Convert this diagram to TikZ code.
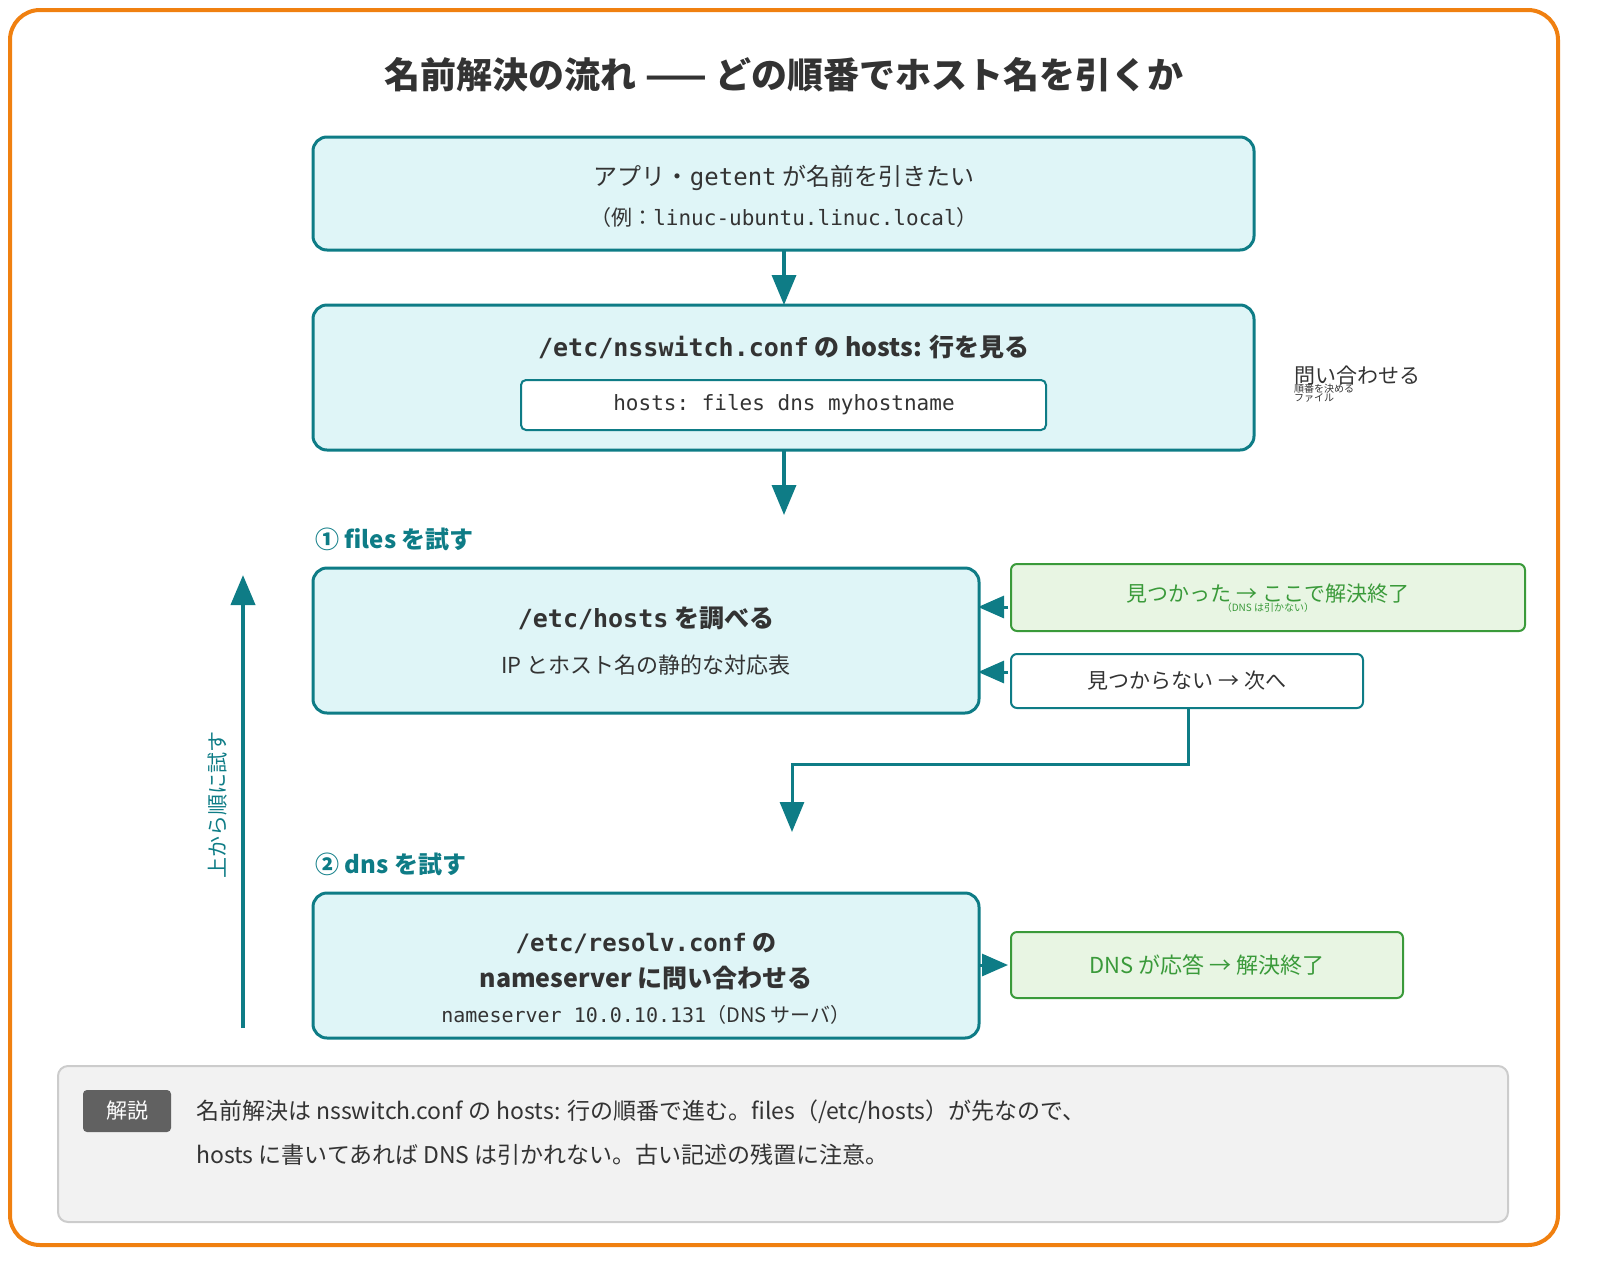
\documentclass[tikz,border=0pt]{standalone}
\usepackage{fontspec}
\setmainfont{Noto Sans CJK JP}
\setmonofont{DejaVu Sans Mono}
\usetikzlibrary{arrows.meta}
\definecolor{teal}{HTML}{0E7C86}
\definecolor{cyanfill}{HTML}{DFF5F7}
\definecolor{gfill}{HTML}{E8F5E3}
\definecolor{gline}{HTML}{3A9A3A}
\definecolor{orng}{HTML}{F08010}
\definecolor{txt}{HTML}{333333}
\newcommand{\fs}[1]{\fontsize{#1}{\fpeval{#1*1.2}}\selectfont}
\begin{document}
\begin{tikzpicture}[x=1pt,y=-1pt,
 box/.style={draw=teal,line width=3pt,fill=cyanfill,rounded corners=14pt},
 gbox/.style={draw=gline,line width=2pt,fill=gfill,rounded corners=6pt},
 wbox/.style={draw=teal,line width=2pt,fill=white,rounded corners=6pt},
 arr/.style={teal,line width=3.5pt,-{Triangle[length=30pt,width=24pt]}},
 sarr/.style={teal,line width=3pt,-{Triangle[length=26pt,width=22pt]}},
 t/.style={inner sep=0pt,anchor=center,text=txt},
 stp/.style={inner sep=0pt,anchor=west,text=teal,font=\fs{24}\bfseries}]
\useasboundingbox (0,0) rectangle (1600,1280);
\draw[orng,line width=4pt,rounded corners=30pt] (10,10) rectangle (1558,1245);
\node[t] (title) at (784,75) {\fs{36}\bfseries 名前解決の流れ —— どの順番でホスト名を引くか};
% box1
\draw[box] (313,137) rectangle (1254,250);
\coordinate (b1s) at (784,250);
\node[t] (b1a) at (784,178) {\fs{24}アプリ・\texttt{getent} が名前を引きたい};
\node[t] (b1b) at (784,218) {\fs{21}（例：\texttt{linuc-ubuntu.linuc.local}）};
% box2
\draw[box] (313,305) rectangle (1254,450);
\coordinate (b2n) at (784,305);
\coordinate (b2s) at (784,450);
\node[t] (b2a) at (784,347) {\fs{25}\bfseries\texttt{/etc/nsswitch.conf} の hosts: 行を見る};
\draw[draw=teal,line width=2pt,fill=white,rounded corners=5pt] (521,380) rectangle (1046,430);
\node[t] (b2b) at (784,405) {\fs{21}\texttt{hosts:\ files dns myhostname}};
\node[inner sep=0pt,anchor=north west,align=left,text=txt] (note) at (1294,366) {\fs{21}問い合わせる\\[-3pt]順番を決める\\[-3pt]ファイル};
\draw[arr] (b1s) -- (b2n);
\coordinate (a2e) at (784,515);
\draw[arr] (b2s) -- (a2e);
% step1
\node[stp] (s1) at (315,539) {① files を試す};
\draw[box] (313,568) rectangle (979,713);
\node[t] (b3a) at (646,618) {\fs{25}\bfseries\texttt{/etc/hosts} を調べる};
\node[t] (b3b) at (646,665) {\fs{22}IP とホスト名の静的な対応表};
\draw[gbox] (1011,564) rectangle (1525,631);
\node[t,text=gline,align=center] (g1) at (1268,598) {\fs{21}見つかった → ここで解決終了\\[-2pt]（DNS は引かない）};
\draw[wbox] (1011,654) rectangle (1363,708);
\node[t] (w1) at (1187,681) {\fs{21}見つからない → 次へ};
\coordinate (g1w) at (1008,607);
\coordinate (b3e1) at (978,607);
\coordinate (w1w) at (1008,672);
\coordinate (b3e2) at (978,672);
\draw[sarr] (g1w) -- (b3e1);
\draw[sarr] (w1w) -- (b3e2);
\coordinate (w1s) at (1188,708);
\coordinate (a3e) at (792,832);
\draw[arr,line width=3pt] (w1s) -- (1188,764) -- (792,764) -- (a3e);
% step2
\node[stp] (s2) at (315,864) {② dns を試す};
\draw[box] (313,893) rectangle (979,1038);
\node[t] (b4a) at (646,943) {\fs{24}\bfseries\texttt{/etc/resolv.conf} の};
\node[t] (b4b) at (646,978) {\fs{25}\bfseries nameserver に問い合わせる};
\node[t] (b4c) at (646,1015) {\fs{20}\texttt{nameserver 10.0.10.131}（DNS サーバ）};
\draw[gbox] (1011,932) rectangle (1403,998);
\node[t,text=gline] (g2) at (1207,965) {\fs{22}DNS が応答 → 解決終了};
\coordinate (b4e) at (980,965);
\coordinate (g2w) at (1008,965);
\draw[sarr] (b4e) -- (g2w);
% vertical
\coordinate (vs) at (243,1028);
\coordinate (ve) at (243,575);
\draw[arr,line width=4pt] (vs) -- (ve);
\node[t,text=teal,rotate=90] (vl) at (218,805) {\fs{21}上から順に試す};
% bottom
\draw[draw=black!20,line width=2pt,fill=black!5,rounded corners=10pt] (58,1066) rectangle (1508,1222);
\draw[fill=black!62,draw=none,rounded corners=4pt] (83,1090) rectangle (171,1132);
\node[t,text=white] (badge) at (127,1111) {\fs{21}解説};
\node[inner sep=0pt,anchor=west,text=txt] (l1) at (196,1112) {\fs{23}名前解決は nsswitch.conf の hosts: 行の順番で進む。files（/etc/hosts）が先なので、};
\node[inner sep=0pt,anchor=west,text=txt] (l2) at (196,1155) {\fs{23}hosts に書いてあれば DNS は引かれない。古い記述の残置に注意。};
\end{tikzpicture}
\end{document}
